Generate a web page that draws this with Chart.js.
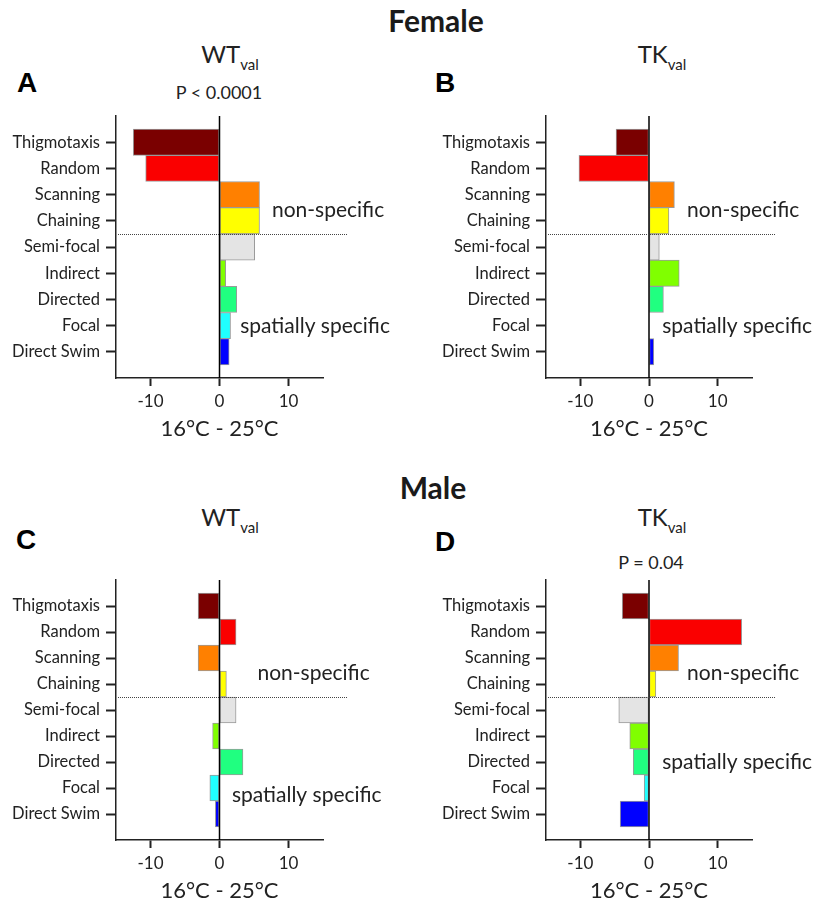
<!DOCTYPE html>
<html>
<head>
<meta charset="utf-8">
<script src="https://cdn.jsdelivr.net/npm/chart.js@4.4.1/dist/chart.umd.min.js"></script>
<style>
  html, body { margin: 0; padding: 0; background: #fff; }
  body { width: 816px; height: 904px; position: relative; overflow: hidden; font-family: Lato, "Open Sans", sans-serif; color: #222; }
  .abs { position: absolute; white-space: nowrap; }
  .sex { font-weight: 700; font-size: 30px; line-height: 36px; transform: translateX(-50%); color: #1a1a1a; }
  .letter { font-weight: 700; font-size: 28px; line-height: 32px; font-family: "Liberation Sans", Arial, sans-serif; color: #000; }
  .ptitle { font-size: 24px; line-height: 30px; transform: translateX(-50%); }
  .ptitle sub { font-size: 15px; vertical-align: -7px; line-height: 0; }
  .pval { font-size: 18px; line-height: 22px; transform: translateX(-50%); }
  canvas { position: absolute; }
</style>
</head>
<body>
<div class="abs sex" style="left:436px; top:2px;">Female</div>
<div class="abs sex" style="left:433px; top:469px;">Male</div>

<div class="abs letter" style="left:17px; top:67px;">A</div>
<div class="abs letter" style="left:435px; top:67px;">B</div>
<div class="abs letter" style="left:16px; top:524px;">C</div>
<div class="abs letter" style="left:435px; top:526px;">D</div>

<div class="abs ptitle" style="left:230px; top:39px;">WT<sub>val</sub></div>
<div class="abs ptitle" style="left:662px; top:39px;">TK<sub>val</sub></div>
<div class="abs ptitle" style="left:230px; top:502px;">WT<sub>val</sub></div>
<div class="abs ptitle" style="left:662px; top:502px;">TK<sub>val</sub></div>

<div class="abs pval" style="left:219px; top:81px;">P &lt; 0.0001</div>
<div class="abs pval" style="left:651px; top:551px;">P = 0.04</div>

<canvas id="cA" width="408" height="360" style="left:0px; top:100px; width:408px; height:360px;"></canvas>
<canvas id="cB" width="408" height="360" style="left:408px; top:100px; width:408px; height:360px;"></canvas>
<canvas id="cC" width="408" height="350" style="left:0px; top:554px; width:408px; height:350px;"></canvas>
<canvas id="cD" width="408" height="350" style="left:408px; top:554px; width:408px; height:350px;"></canvas>

<script>
// ---------- data ----------
const categories = ['Thigmotaxis', 'Random', 'Scanning', 'Chaining', 'Semi-focal', 'Indirect', 'Directed', 'Focal', 'Direct Swim'];
const barColors = ['#7a0000', '#fa0000', '#ff8000', '#ffff00', '#e4e4e4', '#80ff00', '#20ff80', '#20ffff', '#0000ff'];
const femaleWT = [-12.5, -10.7, 5.8, 5.8, 5.1, 0.9, 2.5, 1.6, 1.4];
const femaleTK = [-4.8, -10.2, 3.7, 2.9, 1.5, 4.4, 2.1, 0, 0.7];
const maleWT   = [-3.1, 2.4, -3.1, 1.0, 2.4, -1.0, 3.4, -1.4, -0.6];
const maleTK   = [-3.9, 13.5, 4.3, 1.0, -4.4, -2.8, -2.3, -0.7, -4.2];
const xTickValues = [-10, 0, 10];
const xAxisTitle = '16°C - 25°C';
const groupLabels = ['non-specific', 'spatially specific'];

const FONT = 'Lato, "Open Sans", sans-serif';
const INK = '#222';

function makeChart(id, values, opts) {
  const annot = {
    id: 'annot',
    afterDatasetsDraw(chart) {
      const { ctx, chartArea, scales: { x, y } } = chart;
      ctx.save();
      // zero line
      const x0 = x.getPixelForValue(0);
      ctx.strokeStyle = '#000';
      ctx.lineWidth = 1.5;
      ctx.beginPath();
      ctx.moveTo(x0, chartArea.top);
      ctx.lineTo(x0, chartArea.bottom);
      ctx.stroke();
      // dotted divider between Chaining and Semi-focal
      const yd = Math.round(y.getPixelForValue(3.5)) + 0.5;
      ctx.strokeStyle = '#444';
      ctx.lineWidth = 1;
      ctx.setLineDash([1, 1]);
      ctx.beginPath();
      ctx.moveTo(chartArea.left + 2, yd);
      ctx.lineTo(chartArea.right + 24, yd);
      ctx.stroke();
      ctx.setLineDash([]);
      // group labels
      ctx.fillStyle = INK;
      ctx.font = '21px ' + FONT;
      ctx.textAlign = 'left';
      ctx.textBaseline = 'middle';
      ctx.fillText(groupLabels[0], x.getPixelForValue(opts.ns[0]), y.getPixelForValue(opts.ns[1]));
      ctx.fillText(groupLabels[1], x.getPixelForValue(opts.ss[0]), y.getPixelForValue(opts.ss[1]));
      ctx.restore();
    }
  };

  return new Chart(document.getElementById(id), {
    type: 'bar',
    data: {
      datasets: [{
        data: values.map((v, i) => ({ x: v, y: i })),
        backgroundColor: barColors,
        borderColor: '#9a9a9a',
        borderWidth: 1,
        borderSkipped: false,
        barPercentage: 1,
        categoryPercentage: 1
      }]
    },
    options: {
      indexAxis: 'y',
      responsive: false,
      animation: false,
      devicePixelRatio: 1,
      layout: { padding: opts.padding },
      plugins: { legend: { display: false }, tooltip: { enabled: false } },
      scales: {
        x: {
          type: 'linear',
          min: -15, max: 15,
          offset: false,
          afterBuildTicks: (s) => { s.ticks = xTickValues.map(v => ({ value: v })); },
          afterFit: (s) => { s.height = opts.xh; },
          grid: { offset: false, drawOnChartArea: false, drawTicks: true, tickLength: 8, tickWidth: 2, tickColor: INK },
          border: { display: true, color: INK, width: 1.5 },
          ticks: { color: INK, font: { family: FONT, size: 17 }, padding: 5, maxRotation: 0 },
          title: { display: true, text: xAxisTitle, color: INK, font: { family: FONT, size: 22 }, padding: { top: 0, bottom: 0 } }
        },
        y: {
          type: 'linear',
          min: -1, max: 9,
          reverse: true,
          offset: false,
          afterBuildTicks: (s) => { s.ticks = categories.map((c, i) => ({ value: i })); },
          afterFit: (s) => { s.width = opts.yw; },
          grid: { offset: false, drawOnChartArea: false, drawTicks: true, tickLength: 10, tickWidth: 2, tickColor: INK },
          border: { display: true, color: INK, width: 1.5 },
          ticks: { color: INK, font: { family: FONT, size: 16.5 }, padding: 6, autoSkip: false,
                   callback: (v) => categories[v] ?? '' }
        }
      }
    },
    plugins: [annot]
  });
}

// panel A: chart area x 116..323, y 116..378 (canvas top 100)
makeChart('cA', femaleWT, { yw: 116, xh: 64, padding: { left: 0, right: 85, top: 16, bottom: 18 }, ns: [7.6, 2.58], ss: [3.0, 7.04] });
// panel B: chart area x 546..752 (canvas left 408)
makeChart('cB', femaleTK, { yw: 138, xh: 64, padding: { left: 0, right: 64, top: 16, bottom: 18 }, ns: [5.55, 2.58], ss: [1.93, 7.04] });
// panel C: chart area y 580..841 (canvas top 554)
makeChart('cC', maleWT, { yw: 116, xh: 64, padding: { left: 0, right: 85, top: 26, bottom: 0 }, ns: [5.5, 2.57], ss: [1.8, 7.28] });
// panel D
makeChart('cD', maleTK, { yw: 138, xh: 64, padding: { left: 0, right: 64, top: 26, bottom: 0 }, ns: [5.55, 2.57], ss: [1.93, 6.0] });
</script>
</body>
</html>
